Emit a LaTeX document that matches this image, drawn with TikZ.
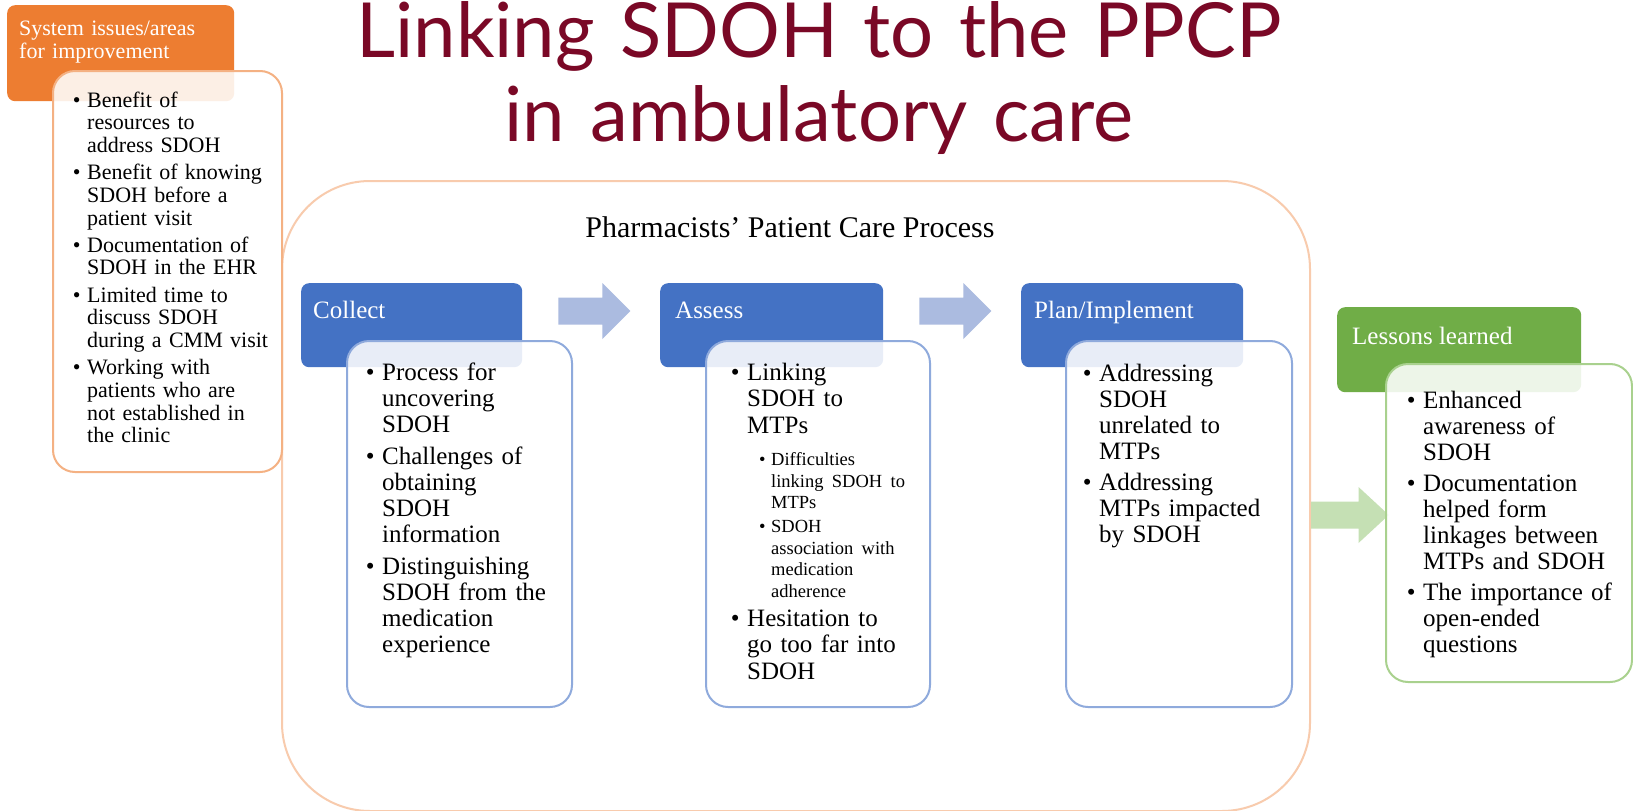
\documentclass[tikz,border=0pt]{standalone}
\usepackage{fontspec}
\setmainfont{Liberation Serif}
\newfontfamily\titlefont{Lato}
\usetikzlibrary{calc}

\definecolor{titlered}{RGB}{122,8,38}
\definecolor{offorange}{RGB}{237,125,49}
\definecolor{offblue}{RGB}{68,114,196}
\definecolor{offgreen}{RGB}{112,173,71}
\definecolor{lineorange}{RGB}{244,177,131}
\definecolor{lineblue}{RGB}{143,170,220}
\definecolor{linegreen}{RGB}{169,209,142}
\definecolor{frameorange}{RGB}{248,203,173}
\definecolor{arrowblue}{RGB}{171,187,224}
\definecolor{arrowgreen}{RGB}{197,224,180}

\newcommand\bul{\makebox[0pt][r]{\textbullet\hspace{0.3em}}}

\tikzset{
  blockarrow/.pic={
    \fill[pic actions] (0,13.5) -- (44,13.5) -- (44,28) -- (72,0) -- (44,-28) -- (44,-13.5) -- (0,-13.5) -- cycle;
  }
}

\begin{document}
\begin{tikzpicture}[x=1pt, y=1pt, line join=round,
  head/.style={rectangle, rounded corners=8pt, inner sep=0pt, anchor=north west},
  box/.style={rectangle, rounded corners=22pt, inner sep=0pt, anchor=north west, fill=white, fill opacity=0.88, line width=2pt},
  headtext/.style={anchor=base west, inner sep=0pt, text=white, font=\fontsize{25}{26}\selectfont},
  list/.style={anchor=base west, inner sep=0pt, text width=280pt, align=left, font=\fontsize{25}{26}\selectfont}]
  \fill[white] (0,0) rectangle (1633,-811);
  \useasboundingbox (0,0) rectangle (1633,-811);

  \node[anchor=base, inner sep=0pt, text width=1300pt, align=center, text=titlered,
        font=\titlefont\fontsize{76}{84}\selectfont] (title) at (819,-57)
        {Linking SDOH to the PPCP\\in ambulatory care};

  % pharmacists' patient care process
  \node[draw=frameorange, line width=2pt, rounded corners=88pt, inner sep=0pt, anchor=north west,
        minimum width=1028pt, minimum height=630pt] (ppcp) at (281,-180) {};
  \node[anchor=base, inner sep=0pt, font=\fontsize{30}{32}\selectfont] (ppcpTitle)
        at ($(ppcp.north)+(-6,-57)$) {Pharmacists’ Patient Care Process};

  % system issues
  \node[head, fill=offorange, minimum width=227pt, minimum height=96pt] (sysHead) at (7,-5) {};
  \node[headtext, text width=220pt, align=left, font=\fontsize{22}{23}\selectfont] (sysLabel)
        at ($(sysHead.north west)+(12,-30)$) {System issues/areas\\for improvement};
  \node[box, draw=lineorange, minimum width=229pt, minimum height=401pt] (sysBox)
        at ($(sysHead.north west)+(45,-65)$) {};
  \node[list, font=\fontsize{22}{22.7}\selectfont] (sysList) at ($(sysBox.north west)+(35,-37)$) {%
    \bul Benefit of\\ resources to\\ address SDOH\\[4.5pt]
    \bul Benefit of knowing\\ SDOH before a\\ patient visit\\[4.5pt]
    \bul Documentation of\\ SDOH in the EHR\\[4.5pt]
    \bul Limited time to\\ discuss SDOH\\ during a CMM visit\\[4.5pt]
    \bul Working with\\ patients who are\\ not established in\\ the clinic};

  % collect
  \node[head, fill=offblue, minimum width=221pt, minimum height=84pt] (collectHead) at (301,-283) {};
  \node[headtext] (collectLabel) at ($(collectHead.north west)+(12,-35)$) {Collect};
  \node[box, draw=lineblue, minimum width=225pt, minimum height=366pt] (collectBox)
        at ($(collectHead.north west)+(45,-57)$) {};
  \node[list] (collectList) at ($(collectBox.north west)+(36,-40)$) {%
    \bul Process for\\ uncovering\\ SDOH\\[6pt]
    \bul Challenges of\\ obtaining\\ SDOH\\ information\\[6pt]
    \bul Distinguishing\\ SDOH from the\\ medication\\ experience};

  % assess
  \node[head, fill=offblue, minimum width=223pt, minimum height=84pt] (assessHead) at (660,-283) {};
  \node[headtext] (assessLabel) at ($(assessHead.north west)+(15,-35)$) {Assess};
  \node[box, draw=lineblue, minimum width=224pt, minimum height=366pt] (assessBox)
        at ($(assessHead.north west)+(45,-57)$) {};
  \node[list, font=\fontsize{25}{26.5}\selectfont] (assessList) at ($(assessBox.north west)+(42,-40)$) {%
    \bul Linking\\ SDOH to\\ MTPs\\[11pt]
    \fontsize{18.5}{21.5}\selectfont\leftskip=24pt
    \bul Difficulties\\ linking SDOH to\\ MTPs\\[2.5pt]
    \bul SDOH\\ association with\\ medication\\ adherence\\[2.5pt]
    \fontsize{25}{26.5}\selectfont\leftskip=0pt
    \bul Hesitation to\\ go too far into\\ SDOH};

  % plan/implement
  \node[head, fill=offblue, minimum width=222pt, minimum height=84pt] (planHead) at (1021,-283) {};
  \node[headtext] (planLabel) at ($(planHead.north west)+(13,-35)$) {Plan/Implement};
  \node[box, draw=lineblue, minimum width=226pt, minimum height=366pt] (planBox)
        at ($(planHead.north west)+(44,-57)$) {};
  \node[list] (planList) at ($(planBox.north west)+(34,-41)$) {%
    \bul Addressing\\ SDOH\\ unrelated to\\ MTPs\\[5pt]
    \bul Addressing\\ MTPs impacted\\ by SDOH};

  \pic[fill=arrowblue] at ($(collectHead.north east)+(36,-28)$) {blockarrow};
  \pic[fill=arrowblue] at ($(assessHead.north east)+(36,-28)$) {blockarrow};

  % lessons learned
  \pic[fill=arrowgreen, xscale=1.08] at ($(ppcp.east)+(0,-19)$) {blockarrow};
  \node[head, fill=offgreen, minimum width=244pt, minimum height=85pt] (lessonHead) at (1337,-307) {};
  \node[headtext] (lessonLabel) at ($(lessonHead.north west)+(15,-37)$) {Lessons learned};
  \node[box, draw=linegreen, minimum width=246pt, minimum height=318pt] (lessonBox)
        at ($(lessonHead.north west)+(48,-56)$) {};
  \node[list] (lessonList) at ($(lessonBox.north west)+(38,-45)$) {%
    \bul Enhanced\\ awareness of\\ SDOH\\[5pt]
    \bul Documentation\\ helped form\\ linkages between\\ MTPs and SDOH\\[5pt]
    \bul The importance of\\ open-ended\\ questions};
\end{tikzpicture}
\end{document}
